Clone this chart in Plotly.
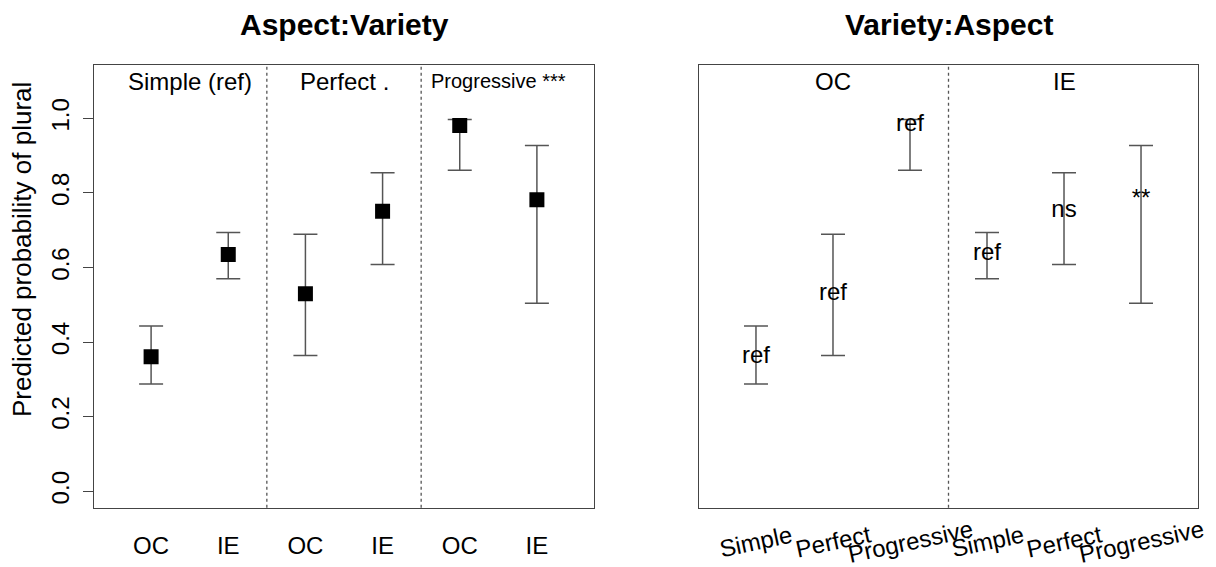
import plotly.graph_objects as go

# Predicted probability of plural, by aspect and variety (estimate + 95% CI)
aspects = ["Simple", "Perfect", "Progressive"]
varieties = ["OC", "IE"]
aspect_labels = ["Simple (ref)", "Perfect .", "Progressive ***"]

est_oc = [0.361, 0.530, 0.981]
est_ie = [0.635, 0.751, 0.782]
lo_oc = [0.288, 0.364, 0.861]
lo_ie = [0.570, 0.608, 0.504]
hi_oc = [0.443, 0.689, 0.997]
hi_ie = [0.694, 0.854, 0.927]

sig_oc = ["ref", "ref", "ref"]
sig_ie = ["ref", "ns", "**"]

y_ticks = [0.0, 0.2, 0.4, 0.6, 0.8, 1.0]

FONT = "Liberation Sans, Arial, Helvetica, sans-serif"
INK = "#000000"
LINE = "#555555"

# Left panel: aspect groups, variety within
left_x, left_est, left_lo, left_hi, left_lab = [], [], [], [], []
for i in range(len(aspects)):
    for v, (e, lo, hi) in enumerate([(est_oc[i], lo_oc[i], hi_oc[i]),
                                     (est_ie[i], lo_ie[i], hi_ie[i])]):
        left_x.append(2 * i + v + 1)
        left_est.append(e)
        left_lo.append(lo)
        left_hi.append(hi)
        left_lab.append(varieties[v])

# Right panel: variety groups, aspect within
right_x, right_est, right_lo, right_hi, right_sig, right_lab = [], [], [], [], [], []
for v, (es, los, his, sg) in enumerate([(est_oc, lo_oc, hi_oc, sig_oc),
                                       (est_ie, lo_ie, hi_ie, sig_ie)]):
    for i in range(len(aspects)):
        right_x.append(3 * v + i + 1)
        right_est.append(es[i])
        right_lo.append(los[i])
        right_hi.append(his[i])
        right_sig.append(sg[i])
        right_lab.append(aspects[i])

fig = go.Figure()

fig.add_trace(go.Scatter(
    x=left_x, y=left_est, mode="markers", xaxis="x", yaxis="y",
    marker=dict(symbol="square", size=15, color=INK, line=dict(width=0)),
    error_y=dict(type="data", symmetric=False,
                 array=[h - e for h, e in zip(left_hi, left_est)],
                 arrayminus=[e - l for e, l in zip(left_est, left_lo)],
                 width=12, thickness=1.5, color=LINE),
    showlegend=False, hoverinfo="skip",
))

fig.add_trace(go.Scatter(
    x=right_x, y=right_est, mode="markers+text", xaxis="x2", yaxis="y2",
    text=right_sig, textposition="middle center",
    textfont=dict(family=FONT, size=24, color=INK),
    marker=dict(size=1, color="rgba(0,0,0,0)"),
    error_y=dict(type="data", symmetric=False,
                 array=[h - e for h, e in zip(right_hi, right_est)],
                 arrayminus=[e - l for e, l in zip(right_est, right_lo)],
                 width=12, thickness=1.5, color=LINE),
    showlegend=False, hoverinfo="skip",
))

W, H = 1216, 567
x_range = [0.26, 6.74]
y_range = [-0.044, 1.144]
y_dom = [(H - 507.7) / H, (H - 64.7) / H]

axis_common = dict(showline=True, mirror=True, linecolor="#444444", linewidth=1.3,
                   showgrid=False, zeroline=False, fixedrange=True)

shapes = []
for xv in [2.5, 4.5]:
    shapes.append(dict(type="line", xref="x", yref="y domain", x0=xv, x1=xv, y0=0, y1=1,
                       line=dict(color="#555555", width=1.3, dash="dot")))
shapes.append(dict(type="line", xref="x2", yref="y2 domain", x0=3.5, x1=3.5, y0=0, y1=1,
                   line=dict(color="#555555", width=1.3, dash="dot")))

annotations = []
# Panel titles
annotations.append(dict(text="<b>Aspect:Variety</b>", xref="x domain", yref="paper",
                        x=0.5, y=(H - 24) / H, showarrow=False, yanchor="middle",
                        font=dict(family=FONT, size=30, color=INK)))
annotations.append(dict(text="<b>Variety:Aspect</b>", xref="x2 domain", yref="paper",
                        x=0.5, y=(H - 24) / H, showarrow=False, yanchor="middle",
                        font=dict(family=FONT, size=30, color=INK)))
# Aspect group labels in left panel
for i, lab in enumerate(aspect_labels):
    annotations.append(dict(text=lab, xref="x", yref="y", x=2 * i + 1.5, y=1.1,
                            showarrow=False, yanchor="middle",
                            font=dict(family=FONT, size=20 if i == 2 else 24, color=INK)))
# Variety group labels in right panel
for v, lab in enumerate(varieties):
    annotations.append(dict(text=lab, xref="x2", yref="y2", x=3 * v + 2, y=1.1,
                            showarrow=False, yanchor="middle",
                            font=dict(family=FONT, size=24, color=INK)))
# Slanted aspect labels under right panel
for xv, lab in zip(right_x, right_lab):
    annotations.append(dict(text=lab, xref="x2", yref="paper", x=xv, y=(H - 541) / H,
                            showarrow=False, yanchor="middle", xanchor="center",
                            textangle=-12,
                            font=dict(family=FONT, size=24, color=INK)))
# Y axis title
annotations.append(dict(text="Predicted probability of plural", xref="paper", yref="paper",
                        x=22 / W, y=(H - 250) / H, showarrow=False, textangle=-90,
                        xanchor="center", yanchor="middle",
                        font=dict(family=FONT, size=26, color=INK)))

fig.update_layout(
    width=W, height=H,
    margin=dict(l=0, r=0, t=0, b=0),
    paper_bgcolor="white", plot_bgcolor="white",
    font=dict(family=FONT, size=24, color=INK),
    xaxis=dict(domain=[94 / W, 594 / W], range=x_range, tickmode="array",
               tickvals=left_x, ticktext=left_lab, ticks="", ticklabelstandoff=16,
               tickfont=dict(family=FONT, size=24, color=INK), **axis_common),
    yaxis=dict(domain=y_dom, range=y_range, tickmode="array", tickvals=y_ticks,
               ticktext=[f"{t:.1f}" for t in y_ticks], ticks="outside", ticklen=10,
               tickcolor="#444444", tickwidth=1.3, tickangle=-90, ticklabelstandoff=4,
               tickfont=dict(family=FONT, size=24, color=INK), **axis_common),
    xaxis2=dict(domain=[699 / W, 1198 / W], range=x_range, anchor="y2",
                showticklabels=False, ticks="", **axis_common),
    yaxis2=dict(domain=y_dom, range=y_range, anchor="x2", showticklabels=False,
                ticks="", **axis_common),
    shapes=shapes,
    annotations=annotations,
)

fig.write_html("out.html")
